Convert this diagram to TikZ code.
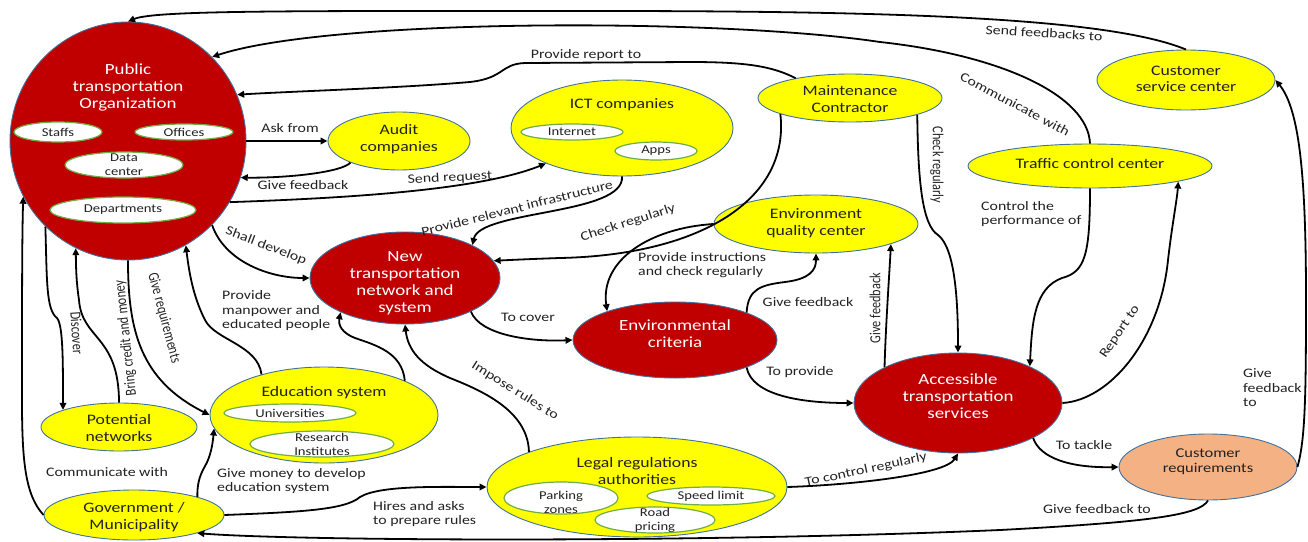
\documentclass[tikz,border=0pt]{standalone}
\usepackage{fontspec}
\setmainfont{Carlito}[FakeStretch=1.22]
\newfontfamily\vertfont{Carlito}
\usetikzlibrary{shapes.geometric,arrows.meta}
\definecolor{myred}{HTML}{C00000}
\definecolor{myyellow}{HTML}{FFFF00}
\definecolor{mysalmon}{HTML}{F4B183}
\definecolor{outl}{HTML}{41719C}
\definecolor{ingreen}{HTML}{70AD47}
\definecolor{txt}{HTML}{222222}
\begin{document}
\begin{tikzpicture}[x=1pt,y=-1pt,
  ell/.style={ellipse, draw=outl, line width=0.9pt, inner sep=0pt},
  rnode/.style={ell, fill=myred},
  ynode/.style={ell, fill=myyellow},
  snode/.style={ell, fill=mysalmon},
  wnode/.style={ellipse, draw=ingreen, line width=1.2pt, fill=white, inner sep=0pt},
  rtitle/.style={font=\fontsize{15.5}{17}\selectfont, text=white, align=center, inner sep=0pt},
  ytitle/.style={font=\fontsize{14.5}{16.5}\selectfont, text=txt, align=center, inner sep=0pt},
  wtext/.style={font=\fontsize{12}{14}\selectfont, text=txt, align=center, inner sep=0pt},
  lbl/.style={font=\fontsize{13}{14.5}\selectfont, text=txt, align=center, inner sep=0pt},
  vlbl/.style={font=\vertfont\fontsize{12.3}{14}\selectfont, text=txt, align=center, inner sep=0pt},
  lbll/.style={lbl, align=left, anchor=west},
  arr/.style={draw=black, line width=1.8pt, -{Triangle[length=7pt,width=6.5pt]}},
  ln/.style={draw=black, line width=1.8pt}
]
\useasboundingbox (0,0) rectangle (1308,541);

% ---------- nodes ----------
\node[rnode, minimum width=236, minimum height=238] (pto) at (128,141) {};
\node[rtitle] (ptot) at (128,87) {Public\\transportation\\Organization};
\node[wnode, minimum width=88, minimum height=20] (staffs) at (58,132) {};
\node[wtext] (staffst) at (58,132) {Staffs};
\node[wnode, minimum width=98, minimum height=16] (offices) at (184,132) {};
\node[wtext] (officest) at (184,132) {Offices};
\node[wnode, minimum width=118, minimum height=26] (datac) at (124,165) {};
\node[wtext] (datact) at (124,165) {Data\\center};
\node[wnode, minimum width=146, minimum height=26] (depts) at (123,210) {};
\node[wtext] (deptst) at (123,210) {Departments};

\node[ynode, minimum width=142, minimum height=58] (audit) at (399,141) {};
\node[ytitle] (auditt) at (399,139) {Audit\\companies};

\node[ynode, minimum width=222, minimum height=96] (ict) at (622,128) {};
\node[ytitle] (ictt) at (622,105) {ICT companies};
\node[wnode, minimum width=102, minimum height=16] (inet) at (572,132) {};
\node[wtext] (inett) at (572,132) {Internet};
\node[wnode, minimum width=82, minimum height=18] (apps) at (656,151) {};
\node[wtext] (appst) at (656,151) {Apps};

\node[ynode, minimum width=184, minimum height=48] (maint) at (850,98) {};
\node[ytitle] (maintt) at (850,99) {Maintenance\\Contractor};

\node[ynode, minimum width=178, minimum height=60] (cserv) at (1186,80) {};
\node[ytitle] (cservt) at (1186,79) {Customer\\service center};

\node[ynode, minimum width=244, minimum height=44] (tcc) at (1090,166) {};
\node[ytitle] (tcct) at (1090,164) {Traffic control center};

\node[ynode, minimum width=204, minimum height=58] (eqc) at (816,224) {};
\node[ytitle] (eqct) at (816,223) {Environment\\quality center};

\node[rnode, minimum width=190, minimum height=92] (newt) at (405,278) {};
\node[rtitle] (newtt) at (405,283) {New\\transportation\\network and\\system};

\node[rnode, minimum width=204, minimum height=76] (envc) at (675,340) {};
\node[rtitle] (envct) at (675,334) {Environmental\\criteria};

\node[rnode, minimum width=208, minimum height=100] (acc) at (958,403) {};
\node[rtitle] (acct) at (958,396) {Accessible\\transportation\\services};

\node[snode, minimum width=178, minimum height=66] (creq) at (1208,467) {};
\node[ytitle, font=\fontsize{13.5}{15}\selectfont] (creqt) at (1208,462) {Customer\\requirements};

\node[ynode, minimum width=228, minimum height=96] (edu) at (324,415) {};
\node[ytitle] (edut) at (324,393) {Education system};
\node[wnode, minimum width=132, minimum height=18] (univ) at (290,413) {};
\node[wtext] (univt) at (290,413) {Universities};
\node[wnode, minimum width=144, minimum height=26] (resi) at (322,444) {};
\node[wtext] (resit) at (322,444) {Research\\Institutes};

\node[ynode, minimum width=156, minimum height=48] (pot) at (119,427) {};
\node[ytitle] (pott) at (119,428) {Potential\\networks};

\node[ynode, minimum width=180, minimum height=50] (gov) at (134,515) {};
\node[ytitle] (govt) at (134,517) {Government /\\Municipality};

\node[ynode, minimum width=300, minimum height=100] (legal) at (637,487) {};
\node[ytitle] (legalt) at (637,471) {Legal regulations\\authorities};
\node[wnode, minimum width=114, minimum height=32] (park) at (561,498) {};
\node[wtext] (parkt) at (561,502) {Parking\\zones};
\node[wnode, minimum width=128, minimum height=18] (speed) at (711,496) {};
\node[wtext] (speedt) at (711,496) {Speed limit};
\node[wnode, minimum width=120, minimum height=26] (road) at (655,520) {};
\node[wtext] (roadt) at (655,520) {Road\\pricing};

% ---------- connectors ----------
% Customer service -> PTO
\draw[arr] (cserv.north) .. controls (1110,18) and (900,11) .. (600,11) .. controls (300,11) and (155,10) .. (pto.north);
\node[lbl, rotate=-3.3] (l1) at (1044,33) {Send feedbacks to};

% Traffic control -> PTO
\draw[arr] (tcc.north) .. controls (1088,95) and (1000,55) .. (880,42) .. controls (720,18) and (330,18) .. (pto.45);
\node[lbl, rotate=-28] (l2) at (1015,104) {Communicate with};

% Maintenance -> PTO
\draw[arr] (maint.160) .. controls (772,66) and (745,62) .. (690,62) -- (525,63) .. controls (500,64) and (505,78) .. (470,82) .. controls (400,88) and (300,91) .. (pto.23);
\node[lbl] (l3) at (586,55) {Provide report to};

% PTO -> Audit
\draw[arr] (pto.east) -- (audit.west);
\node[lbl] (l4) at (290,128) {Ask from};

% Audit -> PTO
\draw[arr] (audit.204) .. controls (342,172) and (290,178) .. (pto.-18);
\node[lbl] (l5) at (303,185) {Give feedback};

% PTO -> ICT
\draw[arr] (pto.-31) .. controls (350,198) and (480,190) .. (ict.205);
\node[lbl, rotate=3] (l6) at (450,178) {Send request};

% ICT -> New
\draw[arr] (ict.south) .. controls (625,215) and (480,210) .. (newt.26);
\node[lbl, rotate=14] (l7) at (517,208) {Provide relevant infrastructure};

% Maintenance -> New
\draw[arr] (maint.193) .. controls (790,200) and (700,255) .. (560,258) .. controls (530,259) and (510,260) .. (newt.11);
\node[lbl, rotate=18] (l8) at (628,223) {Check regularly};

% PTO -> New
\draw[arr] (pto.-45) .. controls (225,262) and (270,278) .. (newt.west);
\node[lbl, rotate=-21] (l9) at (266,246) {Shall develop};

% EQC -> Env criteria
\draw[arr] (eqc.west) .. controls (650,228) and (600,260) .. (envc.157);
\node[lbll] (l10) at (638,265) {Provide instructions\\and check regularly};

% Env criteria -> EQC
\draw[arr] (envc.21) .. controls (748,288) and (762,285) .. (785,282) .. controls (810,279) and (816,270) .. (eqc.south);
\node[lbl] (l11) at (808,302) {Give feedback};

% New -> Env criteria
\draw[arr] (newt.-27) .. controls (480,335) and (530,342) .. (envc.west);
\node[lbl] (l12) at (528,317) {To cover};

% Env criteria -> Accessible
\draw[arr] (envc.-21) .. controls (752,395) and (800,403) .. (acc.west);
\node[lbl] (l13) at (800,372) {To provide};

% Accessible -> EQC
\draw[arr] (acc.154) .. controls (886,320) and (889,280) .. (eqc.-15);
\node[vlbl, rotate=90, yscale=1.25] (l14) at (875,308) {Give feedback};

% Maintenance -> Accessible
\draw[arr] (maint.-14) .. controls (918,180) and (922,225) .. (938,235) .. controls (955,248) and (958,300) .. (acc.north);
\node[vlbl, rotate=-90, yscale=1.25] (l15) at (937,165) {Check regularly};

% TCC -> Accessible
\draw[arr] (tcc.south) .. controls (1090,255) and (1085,272) .. (1062,278) .. controls (1035,288) and (1032,320) .. (acc.27);
\node[lbll] (l16) at (981,214) {Control the\\performance of};

% Accessible -> TCC
\draw[arr] (acc.east) .. controls (1110,400) and (1160,340) .. (1168,260) .. controls (1172,225) and (1177,200) .. (tcc.-10);
\node[lbl, rotate=56] (l17) at (1120,332) {Report to};

% Accessible -> Customer requirements
\draw[arr] (acc.-25) .. controls (1040,458) and (1070,468) .. (creq.west);
\node[lbl] (l18) at (1084,445) {To tackle};

% Customer requirements -> Government
\draw[arr] (creq.south) .. controls (1200,515) and (1150,522) .. (1000,530) .. controls (700,543) and (300,541) .. (gov.-16);
\node[lbl] (l19) at (1097,509) {Give feedback to};

% Customer requirements -> Customer service
\draw[arr] (creq.east) .. controls (1305,440) and (1306,400) .. (1306,300) .. controls (1306,180) and (1300,110) .. (cserv.east);
\node[lbll] (l20) at (1243,388) {Give\\feedback\\to};

% Legal -> Accessible
\draw[arr] (legal.east) .. controls (850,485) and (945,475) .. (acc.south);
\node[lbl, rotate=12] (l21) at (866,470) {To control regularly};

% Government -> Legal
\draw[arr] (gov.east) .. controls (300,512) and (345,510) .. (360,497) .. controls (380,485) and (440,487) .. (legal.west);
\node[lbll] (l22) at (373,514) {Hires and asks\\to prepare rules};

% Legal -> New
\draw[arr] (legal.162) .. controls (528,410) and (480,390) .. (450,378) .. controls (420,365) and (408,350) .. (newt.south);
\node[lbl, rotate=-32] (l23) at (515,391) {Impose rules to};

% Education -> New
\draw[arr] (edu.23) .. controls (402,352) and (375,345) .. (355,338) .. controls (342,333) and (338,325) .. (newt.208);

% Education -> PTO
\draw[arr] (edu.147) .. controls (258,345) and (215,340) .. (205,320) .. controls (195,300) and (190,280) .. (pto.-61);
\node[lbll] (l24) at (222,311) {Provide\\manpower and\\educated people};

% PTO -> Education
\draw[arr] (pto.south) .. controls (128,330) and (140,380) .. (edu.west);
\node[vlbl, rotate=-75, yscale=1.25] (l25) at (164,318) {Give requirements};

% Potential -> PTO
\draw[arr] (pot.north) .. controls (119,335) and (82,340) .. (79,300) .. controls (76,280) and (76,265) .. (pto.244);
\node[vlbl, rotate=96, yscale=1.25] (l26) at (126,338) {Bring credit and money};

% PTO -> Potential
\draw[arr] (pto.226) .. controls (47,280) and (46,310) .. (57,318) .. controls (63,325) and (63,360) .. (pot.163);
\node[vlbl, rotate=-86, yscale=1.25] (l27) at (77,333) {Discover};

% Government -> PTO
\draw[arr] (gov.west) .. controls (25,495) and (22,460) .. (22,400) .. controls (22,300) and (22,240) .. (pto.208);
\node[lbl] (l28) at (107,472) {Communicate with};

% Government -> Education
\draw[arr] (gov.16) .. controls (197,475) and (205,468) .. (208,460) .. controls (212,450) and (213,440) .. (edu.187);
\node[lbll] (l29) at (217,481) {Give money to develop\\education system};

\end{tikzpicture}
\end{document}
